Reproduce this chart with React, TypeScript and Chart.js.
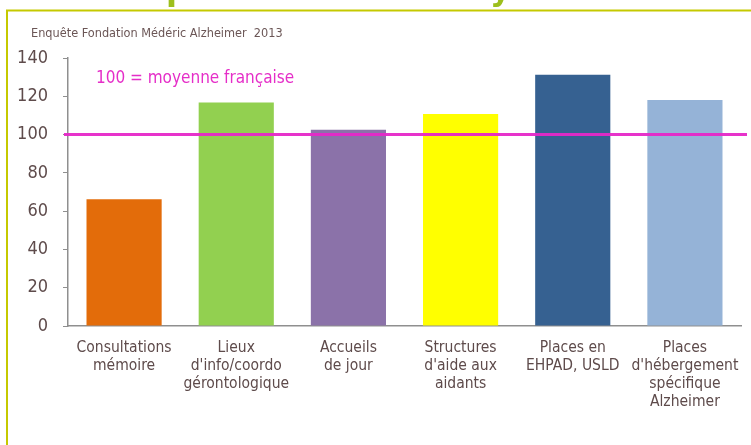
import React, { useEffect, useRef } from "react";
import { Chart, registerables } from "chart.js";

Chart.register(...registerables);

const categories: string[][] = [
  ["Consultations", "mémoire"],
  ["Lieux", "d'info/coordo", "gérontologique"],
  ["Accueils", "de jour"],
  ["Structures", "d'aide aux", "aidants"],
  ["Places en", "EHPAD, USLD"],
  ["Places", "d'hébergement", "spécifique", "Alzheimer"],
];
const values: number[] = [66.2, 116.8, 102.5, 110.8, 131.3, 118.1];
const barColors: string[] = ["#e36c0a", "#92d050", "#8b72a9", "#ffff00", "#366191", "#95b3d7"];
const referenceValue = 100;
const referenceLabel = "100 = moyenne française";
const sourceLabel = "Enquête Fondation Médéric Alzheimer  2013";
const yTicks = { min: 0, max: 140, step: 20 };

const FONT = "'DejaVu Sans Condensed', 'DejaVu Sans', sans-serif";
const TEXT = "#5e4b4b";

const decorPlugin = {
  id: "decor",
  beforeDraw(chart: any) {
    const ctx = chart.ctx;
    ctx.save();
    ctx.fillStyle = "#ffffff";
    ctx.fillRect(0, 0, chart.width, chart.height);
    // frame
    ctx.strokeStyle = "#c5c900";
    ctx.lineWidth = 2;
    ctx.beginPath();
    ctx.moveTo(7, chart.height);
    ctx.lineTo(7, 10.5);
    ctx.lineTo(chart.width, 10.5);
    ctx.stroke();
    // cut-off title glyphs
    ctx.fillStyle = "#9dbf1c";
    ctx.font = `bold 32px 'DejaVu Sans', sans-serif`;
    ctx.textBaseline = "alphabetic";
    ctx.textAlign = "left";
    ctx.fillText("p", 166, 0);
    ctx.fillText("y", 490, 0);
    // source text
    ctx.fillStyle = "#6b5656";
    ctx.font = `12.6px ${FONT}`;
    ctx.textBaseline = "middle";
    ctx.fillText(sourceLabel, 31, 34);
    ctx.restore();
  },
  afterDatasetsDraw(chart: any) {
    const ctx = chart.ctx;
    const y = chart.scales.y.getPixelForValue(referenceValue);
    const area = chart.chartArea;
    ctx.save();
    ctx.strokeStyle = "rgba(230, 40, 200, 0.95)";
    ctx.lineWidth = 3;
    ctx.beginPath();
    ctx.moveTo(area.left - 4, y);
    ctx.lineTo(area.right + 6, y);
    ctx.stroke();
    ctx.fillStyle = "#e52ec8";
    ctx.font = `17px ${FONT}`;
    ctx.textBaseline = "middle";
    ctx.textAlign = "left";
    ctx.fillText(referenceLabel, 96, 79);
    ctx.restore();
  },
};

export default function App() {
  const ref = useRef<HTMLCanvasElement>(null);
  useEffect(() => {
    if (!ref.current) return;
    const chart = new Chart(ref.current, {
      type: "bar",
      data: {
        labels: categories,
        datasets: [
          {
            data: values,
            backgroundColor: barColors,
            borderWidth: 0,
            barPercentage: 0.67,
            categoryPercentage: 1,
          },
        ],
      },
      options: {
        animation: false,
        responsive: false,
        layout: { padding: { left: 0, top: 58, right: 10, bottom: 0 } },
        plugins: { legend: { display: false }, tooltip: { enabled: false }, title: { display: false } },
        scales: {
          x: {
            grid: { display: true, drawOnChartArea: false, drawTicks: false },
            border: { color: "#8f8f8f", width: 1.5 },
            ticks: {
              color: TEXT,
              font: { family: FONT, size: 15.5, lineHeight: 18 / 15.5 },
              padding: 13,
              maxRotation: 0,
              autoSkip: false,
            },
            afterFit: (s: any) => {
              s.height = 119;
              s.paddingLeft = 0;
              s.paddingRight = 0;
            },
          },
          y: {
            min: yTicks.min,
            max: yTicks.max,
            grid: { display: true, drawOnChartArea: false, drawTicks: true, tickLength: 5, color: "#8f8f8f" },
            border: { color: "#8f8f8f", width: 1.5 },
            ticks: {
              stepSize: yTicks.step,
              color: TEXT,
              font: { family: FONT, size: 18 },
              padding: 15,
            },
            afterFit: (s: any) => {
              s.width = 68;
            },
          },
        },
      },
      plugins: [decorPlugin],
    });
    return () => chart.destroy();
  }, []);
  return (
    <div style={{ position: "fixed", left: 0, top: 0, width: 751, height: 445, background: "#fff" }}>
      <canvas ref={ref} width={751} height={445} style={{ display: "block" }} />
    </div>
  );
}
